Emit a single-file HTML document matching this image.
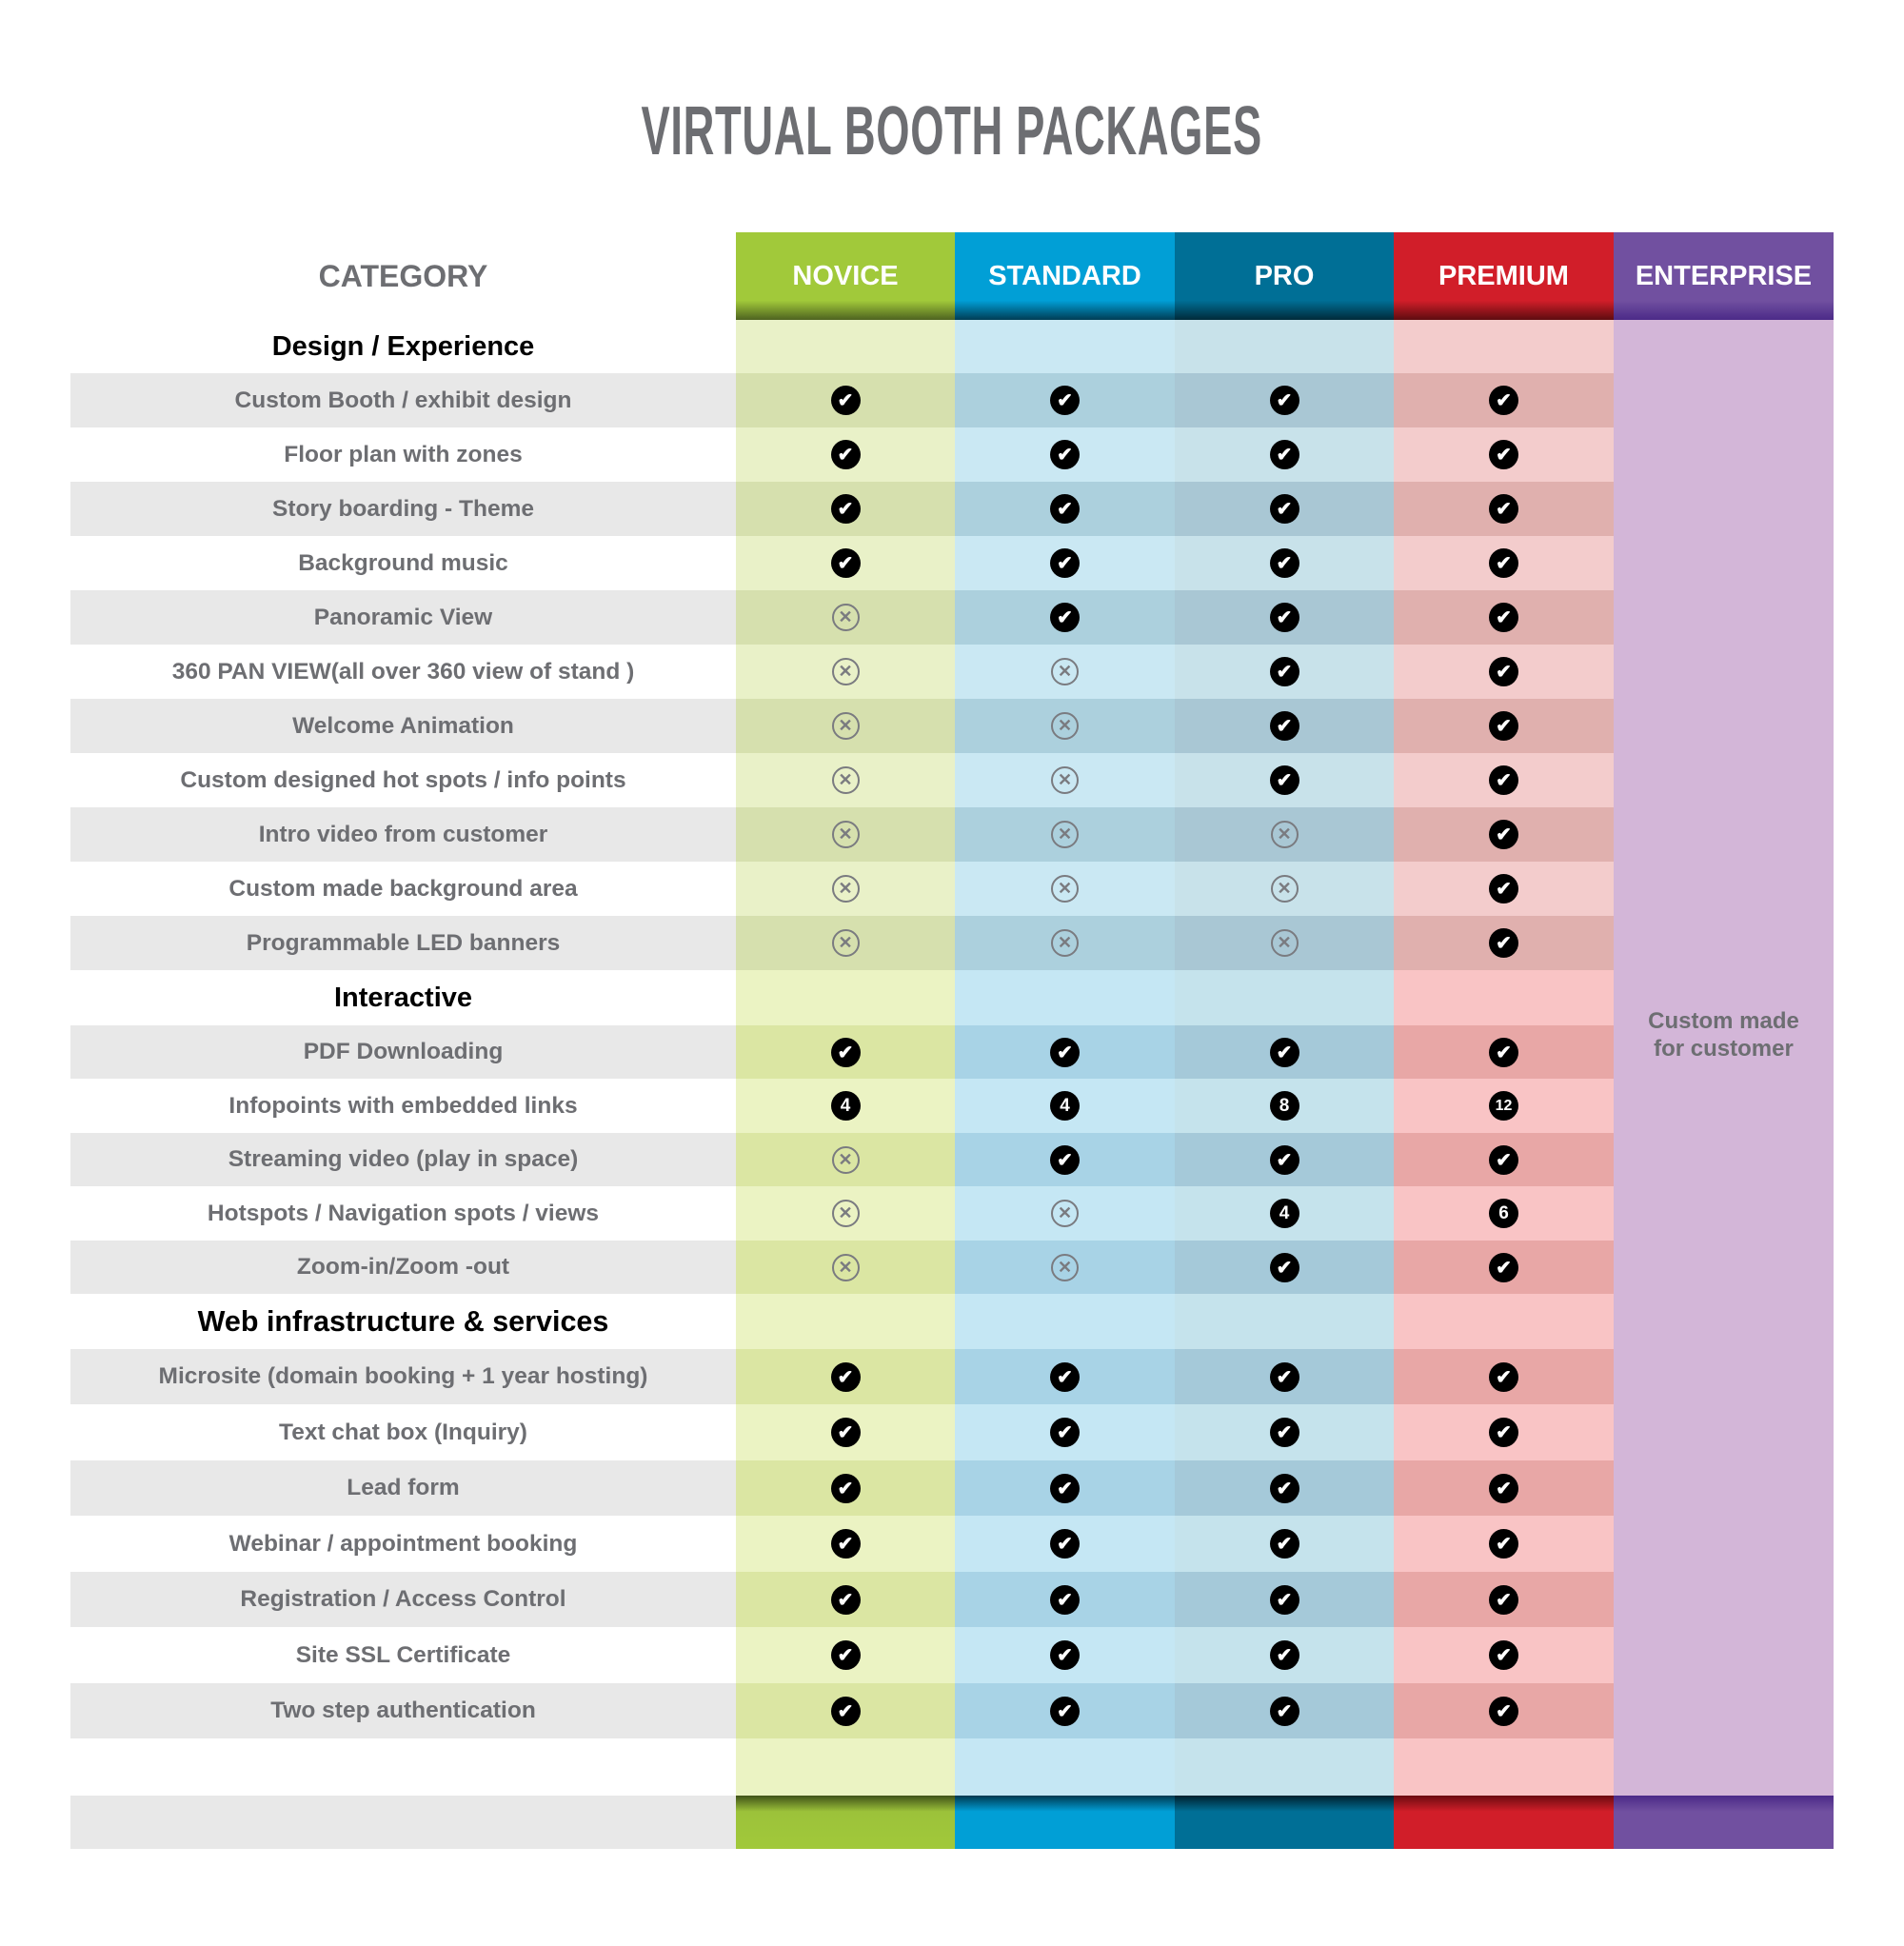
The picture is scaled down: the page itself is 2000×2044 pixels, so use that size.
<!DOCTYPE html>
<html><head><meta charset="utf-8"><style>
*{margin:0;padding:0;box-sizing:border-box}
body{width:2000px;height:2044px;background:#fff;position:relative;font-family:"Liberation Sans",Arial,sans-serif;overflow:hidden}
.title{position:absolute;left:0;width:2000px;top:98px;text-align:center;font-weight:bold;font-size:72px;color:#6d6e72;line-height:80px}
.title span{display:inline-block;transform:scaleX(0.63);letter-spacing:1px}
.tbl{position:absolute;left:74px;top:244px;width:1852px}
.row{display:flex;width:1852px}
.row>div{display:flex;align-items:center;justify-content:center}
.lab{width:699px;color:#6d6e72;font-weight:bold;font-size:24.5px}
.col{width:230px}
.s,.r{width:231px}
.e{width:231px}
.hd .lab{font-size:32px;color:#6d6e72}
.hd .col,.hd .e{color:#fff;font-weight:bold;font-size:29px;height:92px}
.hd .n{background:linear-gradient(#a1c93a 0,#a1c93a 78%,#4e6320 100%)}
.hd .s{background:linear-gradient(#019fd6 0,#019fd6 78%,#003d55 100%)}
.hd .p{background:linear-gradient(#006f96 0,#006f96 78%,#002a3a 100%)}
.hd .r{background:linear-gradient(#d11e29 0,#d11e29 78%,#5e0c10 100%)}
.hd .e{background:linear-gradient(#7150a0 0,#7150a0 78%,#4b2a88 100%)}
.ft .lab{background:#e8e8e8}
.ft .n{background:linear-gradient(#3f5218 0,#9cc23a 30%,#a1c93a 100%)}
.ft .s{background:linear-gradient(#00384f 0,#019fd6 30%,#019fd6 100%)}
.ft .p{background:linear-gradient(#00202d 0,#006f96 30%,#006f96 100%)}
.ft .r{background:linear-gradient(#6a0b10 0,#d11e29 30%,#d11e29 100%)}
.ft .e{background:linear-gradient(#4b2a88 0,#7150a0 30%,#7150a0 100%)}
.h .lab{color:#000;font-size:29px}
.g .lab{background:#e8e8e8}
.w1 .n,.h1 .n{background:#e9f1c8}.w1 .s,.h1 .s{background:#cae8f3}.w1 .p,.h1 .p{background:#c8e2ea}.w1 .r,.h1 .r{background:#f3cccc}
.g1 .n{background:#d6e0ae}.g1 .s{background:#acd0dd}.g1 .p{background:#a9c7d4}.g1 .r{background:#e0b0ae}
.w2 .n,.h2 .n{background:#ebf3c3}.w2 .s,.h2 .s{background:#c5e7f4}.w2 .p,.h2 .p{background:#c5e3ec}.w2 .r,.h2 .r{background:#f9c4c5}
.g2 .n{background:#dbe6a3}.g2 .s{background:#a8d3e6}.g2 .p{background:#a5c9d9}.g2 .r{background:#e8a7a6}
.ent{position:absolute;left:1695px;top:336px;width:231px;height:1555px;background:#d3b6d8;display:flex;align-items:center;justify-content:center;text-align:center;color:#6d6e72;font-weight:bold;font-size:24px;line-height:29px;padding-bottom:54px}
i{display:inline-flex;width:31px;height:31px;border-radius:50%;align-items:center;justify-content:center;font-style:normal;font-weight:bold}
i.c{background:#000;color:#fff;font-size:20px}
i.c.k::after{content:"✔"}
i.x{border:2px solid #7a7b80;color:#7a7b80;font-size:18px;width:29px;height:29px}
i.x::after{content:"✕"}
i.c.num{font-size:19px}
</style></head><body>
<div class="title"><span>VIRTUAL BOOTH PACKAGES</span></div>
<div class="ent">Custom made<br>for customer</div>
<div class="tbl">
<div class="row hd"><div class="lab">CATEGORY</div><div class="col n">NOVICE</div><div class="col s">STANDARD</div><div class="col p">PRO</div><div class="col r">PREMIUM</div><div class="e">ENTERPRISE</div></div>

<div class="row h h1" style="height:56px"><div class="lab">Design / Experience</div><div class="col n"></div><div class="col s"></div><div class="col p"></div><div class="col r"></div></div>
<div class="row g g1" style="height:57px"><div class="lab">Custom Booth / exhibit design</div><div class="col n"><i class="c k"></i></div><div class="col s"><i class="c k"></i></div><div class="col p"><i class="c k"></i></div><div class="col r"><i class="c k"></i></div></div>
<div class="row w1" style="height:57px"><div class="lab">Floor plan with zones</div><div class="col n"><i class="c k"></i></div><div class="col s"><i class="c k"></i></div><div class="col p"><i class="c k"></i></div><div class="col r"><i class="c k"></i></div></div>
<div class="row g g1" style="height:57px"><div class="lab">Story boarding - Theme</div><div class="col n"><i class="c k"></i></div><div class="col s"><i class="c k"></i></div><div class="col p"><i class="c k"></i></div><div class="col r"><i class="c k"></i></div></div>
<div class="row w1" style="height:57px"><div class="lab">Background music</div><div class="col n"><i class="c k"></i></div><div class="col s"><i class="c k"></i></div><div class="col p"><i class="c k"></i></div><div class="col r"><i class="c k"></i></div></div>
<div class="row g g1" style="height:57px"><div class="lab">Panoramic View</div><div class="col n"><i class="x"></i></div><div class="col s"><i class="c k"></i></div><div class="col p"><i class="c k"></i></div><div class="col r"><i class="c k"></i></div></div>
<div class="row w1" style="height:57px"><div class="lab">360 PAN VIEW(all over 360 view of stand )</div><div class="col n"><i class="x"></i></div><div class="col s"><i class="x"></i></div><div class="col p"><i class="c k"></i></div><div class="col r"><i class="c k"></i></div></div>
<div class="row g g1" style="height:57px"><div class="lab">Welcome Animation</div><div class="col n"><i class="x"></i></div><div class="col s"><i class="x"></i></div><div class="col p"><i class="c k"></i></div><div class="col r"><i class="c k"></i></div></div>
<div class="row w1" style="height:57px"><div class="lab">Custom designed hot spots / info points</div><div class="col n"><i class="x"></i></div><div class="col s"><i class="x"></i></div><div class="col p"><i class="c k"></i></div><div class="col r"><i class="c k"></i></div></div>
<div class="row g g1" style="height:57px"><div class="lab">Intro video from customer</div><div class="col n"><i class="x"></i></div><div class="col s"><i class="x"></i></div><div class="col p"><i class="x"></i></div><div class="col r"><i class="c k"></i></div></div>
<div class="row w1" style="height:57px"><div class="lab">Custom made background area</div><div class="col n"><i class="x"></i></div><div class="col s"><i class="x"></i></div><div class="col p"><i class="x"></i></div><div class="col r"><i class="c k"></i></div></div>
<div class="row g g1" style="height:57px"><div class="lab">Programmable LED banners</div><div class="col n"><i class="x"></i></div><div class="col s"><i class="x"></i></div><div class="col p"><i class="x"></i></div><div class="col r"><i class="c k"></i></div></div>

<div class="row h h2" style="height:58px"><div class="lab">Interactive</div><div class="col n"></div><div class="col s"></div><div class="col p"></div><div class="col r"></div></div>
<div class="row g g2" style="height:56px"><div class="lab">PDF Downloading</div><div class="col n"><i class="c k"></i></div><div class="col s"><i class="c k"></i></div><div class="col p"><i class="c k"></i></div><div class="col r"><i class="c k"></i></div></div>
<div class="row w2" style="height:57px"><div class="lab">Infopoints with embedded links</div><div class="col n"><i class="c num">4</i></div><div class="col s"><i class="c num">4</i></div><div class="col p"><i class="c num">8</i></div><div class="col r"><i class="c num" style="font-size:16px">12</i></div></div>
<div class="row g g2" style="height:56px"><div class="lab">Streaming video (play in space)</div><div class="col n"><i class="x"></i></div><div class="col s"><i class="c k"></i></div><div class="col p"><i class="c k"></i></div><div class="col r"><i class="c k"></i></div></div>
<div class="row w2" style="height:57px"><div class="lab">Hotspots / Navigation spots / views</div><div class="col n"><i class="x"></i></div><div class="col s"><i class="x"></i></div><div class="col p"><i class="c num">4</i></div><div class="col r"><i class="c num">6</i></div></div>
<div class="row g g2" style="height:56px"><div class="lab">Zoom-in/Zoom -out</div><div class="col n"><i class="x"></i></div><div class="col s"><i class="x"></i></div><div class="col p"><i class="c k"></i></div><div class="col r"><i class="c k"></i></div></div>

<div class="row h h2" style="height:58px"><div class="lab" style="font-size:30.5px">Web infrastructure &amp; services</div><div class="col n"></div><div class="col s"></div><div class="col p"></div><div class="col r"></div></div>
<div class="row g g2" style="height:58px"><div class="lab">Microsite (domain booking + 1 year hosting)</div><div class="col n"><i class="c k"></i></div><div class="col s"><i class="c k"></i></div><div class="col p"><i class="c k"></i></div><div class="col r"><i class="c k"></i></div></div>
<div class="row w2" style="height:59px"><div class="lab">Text chat box (Inquiry)</div><div class="col n"><i class="c k"></i></div><div class="col s"><i class="c k"></i></div><div class="col p"><i class="c k"></i></div><div class="col r"><i class="c k"></i></div></div>
<div class="row g g2" style="height:58px"><div class="lab">Lead form</div><div class="col n"><i class="c k"></i></div><div class="col s"><i class="c k"></i></div><div class="col p"><i class="c k"></i></div><div class="col r"><i class="c k"></i></div></div>
<div class="row w2" style="height:59px"><div class="lab">Webinar / appointment booking</div><div class="col n"><i class="c k"></i></div><div class="col s"><i class="c k"></i></div><div class="col p"><i class="c k"></i></div><div class="col r"><i class="c k"></i></div></div>
<div class="row g g2" style="height:58px"><div class="lab">Registration / Access Control</div><div class="col n"><i class="c k"></i></div><div class="col s"><i class="c k"></i></div><div class="col p"><i class="c k"></i></div><div class="col r"><i class="c k"></i></div></div>
<div class="row w2" style="height:59px"><div class="lab">Site SSL Certificate</div><div class="col n"><i class="c k"></i></div><div class="col s"><i class="c k"></i></div><div class="col p"><i class="c k"></i></div><div class="col r"><i class="c k"></i></div></div>
<div class="row g g2" style="height:58px"><div class="lab">Two step authentication</div><div class="col n"><i class="c k"></i></div><div class="col s"><i class="c k"></i></div><div class="col p"><i class="c k"></i></div><div class="col r"><i class="c k"></i></div></div>
<div class="row w2" style="height:60px"><div class="lab"></div><div class="col n"></div><div class="col s"></div><div class="col p"></div><div class="col r"></div></div>
<div class="row ft" style="height:56px"><div class="lab"></div><div class="col n"></div><div class="col s"></div><div class="col p"></div><div class="col r"></div><div class="e"></div></div>
</div>
</body></html>
